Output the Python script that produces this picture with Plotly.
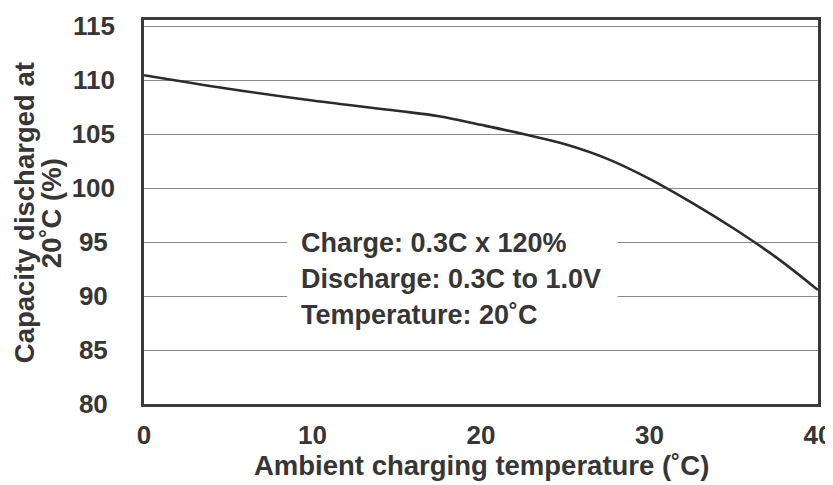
import plotly.graph_objects as go

temps = [0, 5, 10, 15, 17.5, 20, 22.5, 25, 27.5, 30, 32.5, 35, 37.5, 40]
capacity = [110.45, 109.2, 108.1, 107.15, 106.65, 105.85, 105.0, 104.05, 102.7, 100.85, 98.65, 96.25, 93.6, 90.55]

x_ticks = [0, 10, 20, 30, 40]
y_ticks = [80, 85, 90, 95, 100, 105, 110, 115]

notes = ["Charge: 0.3C x 120%", "Discharge: 0.3C to 1.0V", "Temperature: 20˚C"]
note_y = [94.95, 91.55, 88.2]

FONT = "Liberation Sans, Arial, sans-serif"
TXT = "#363636"
NB = "\u00a0"

# page body has an 8px margin, so the figure is sized to fill the rest of the window
PAGE_OFF = 8


def centred(v):
    s = str(v)
    return s if len(s) >= 3 else NB + s + NB


fig = go.Figure()
fig.add_trace(go.Scatter(x=temps, y=capacity, mode="lines",
                         line=dict(color="#2b2b2b", width=2.6, shape="spline", smoothing=1.1),
                         hoverinfo="skip", showlegend=False))

# white box hiding gridlines behind the note
fig.add_shape(type="rect", xref="x", yref="y", x0=8.5, x1=28.1, y0=87.2, y1=97.5,
              fillcolor="white", line=dict(width=0), layer="between")

for t, yy in zip(notes, note_y):
    fig.add_annotation(x=9.2, y=yy, xref="x", yref="y", text=t, showarrow=False,
                       xanchor="left", yanchor="middle",
                       font=dict(family=FONT, size=27, color=TXT, weight="bold"))

fig.add_annotation(x=-0.178, y=0.497, xref="paper", yref="paper", text="Capacity discharged at",
                   showarrow=False, textangle=-90, xanchor="center", yanchor="middle",
                   font=dict(family=FONT, size=27.5, color=TXT, weight="bold"))
fig.add_annotation(x=-0.138, y=0.497, xref="paper", yref="paper", text="20˚C (%)",
                   showarrow=False, textangle=-90, xanchor="center", yanchor="middle",
                   font=dict(family=FONT, size=27.5, color=TXT, weight="bold"))
fig.add_annotation(x=0.5, y=-0.161, xref="paper", yref="paper",
                   text="Ambient charging temperature (˚C)",
                   showarrow=False, xanchor="center", yanchor="middle",
                   font=dict(family=FONT, size=27.5, color=TXT, weight="bold"))

fig.update_layout(
    width=833 - PAGE_OFF, height=485 - PAGE_OFF,
    margin=dict(l=144 - PAGE_OFF, r=15, t=20 - PAGE_OFF, b=81, autoexpand=False),
    paper_bgcolor="white", plot_bgcolor="white",
    font=dict(family=FONT, size=26, color=TXT),
    xaxis=dict(range=[0, 40], tickvals=x_ticks, ticktext=[str(v) for v in x_ticks],
               showgrid=False, zeroline=False, showline=True, mirror=True, automargin=False,
               linecolor="#3a3a3a", linewidth=2.5, ticks="", ticklabelstandoff=6,
               tickfont=dict(family=FONT, size=26, color=TXT, weight="bold")),
    yaxis=dict(range=[80, 115.56], tickvals=y_ticks, ticktext=[centred(v) for v in y_ticks],
               showgrid=True, gridcolor="#8a8a8a", gridwidth=1.3, zeroline=False,
               showline=True, mirror=True, linecolor="#3a3a3a", linewidth=2.5,
               automargin=False, ticks="", ticklabelstandoff=21,
               tickfont=dict(family=FONT, size=26, color=TXT, weight="bold")),
)

fig.write_html("out.html")
